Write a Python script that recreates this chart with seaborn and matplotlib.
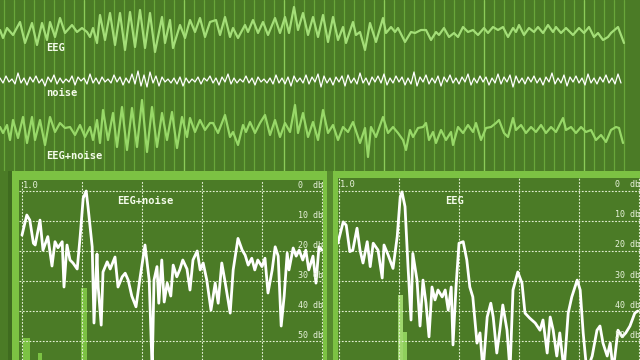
import numpy as np
import pandas as pd
import matplotlib
matplotlib.use("Agg")
import matplotlib.pyplot as plt
import seaborn as sns
from matplotlib.patches import Rectangle

# ---------------- data ----------------
# top traces: time (sample index) and amplitude
eeg_t = [0, 3, 7, 13, 20, 25, 32, 37, 42, 47, 50, 55, 60, 65, 72, 77, 82, 87, 90, 93,
         97, 100, 105, 110, 115, 120, 125, 130, 135, 140, 145, 150, 155, 162, 165, 170, 173, 180, 185, 190,
         195, 200, 205, 210,
         216, 220, 225, 230, 233, 238, 245, 248, 253, 258, 263, 268, 275, 280, 285, 289, 294, 298, 303, 308,
         313, 318, 323, 328, 333, 338, 343, 346, 353, 356, 360, 365, 370, 376, 383, 386, 391, 395, 398, 405,
         411, 415, 421,
         426, 431, 436, 439, 444, 449, 454, 458, 463, 468, 473, 478, 484, 488, 493, 498, 503, 508, 513, 516,
         519, 524, 529, 534, 538, 543, 548, 553, 556, 561, 566, 573, 579, 584, 589, 594, 598, 603, 608, 611,
         618, 624]
eeg_v = [2, -6, 4, -3, 10, -11, 9, -13, 9, -8, 10, -5, 14, -1, 7, 0, 4, 0, -5, 4,
         -11, 17, -8, 19, -13, 19, -18, 20, -15, 22, -16, 19, -20, 15, -11, 12, -16, 7, -6, 12,
         0, 14, -5, 10,
         12, -3, 15, -5, 4, -6, 7, 0, 12, -1, 10, -3, 14, -1, 15, -1, 25, 2, 19, -3,
         15, -5, 17, -10, 15, -8, 5, -11, 10, -3, 0, -18, 9, -10, 14, -1, 5, 0, 4, -10,
         0, -1, 2,
         2, -8, 0, -3, 4, -5, -1, -5, 5, 0, 2, -3, 4, -1, 5, 2, 5, -5, 4, 0,
         7, -3, 4, 0, 5, -1, 7, 0, 5, -1, 4, -3, 4, -1, 5, -5, -1, -8, -5, -1,
         5, -11]

noise_v = [2, -3, 4, -2, 1, -4, 7, -3, 2, -5, 3, -2, 4, -3, 1, -6, 3, -2, 5, -4,
           2, -3, 1, -2, 4, -5, 3, -1, 2, -4, 6, -3, 2, -4, 3, -2, 1, -3, 5, -2,
           3, -5, 2, -3, 6, -4, 9, -6, 5, -7, 8, -3, 4, -6, 3, -2, 1, -3, 2, -4,
           3, -6, 2, -3, 1, -2, 3, -4, 2, -1, 4, -3, 2, -5, 3, -2, 6, -4, 2, -3,
           1, -2, 4, -3, 2, -5, 3, -2, 1, -3, 2, -4, 5, -3, 2, -4, 3, -6, 4, -2,
           2, -3, 5, -4, 3, -2, 6, -7, 4, -3, 2, -5, 3, -2, 4, -6, 5, -3, 2, -4,
           7, -3, 2, -5, 3, -2, 4, -3, 6, -5, 2, -3, 4, -2, 3, -5, 2, -4, 8, -6,
           3, -2, 5, -4, 2, -3, 4, -6, 3, -2, 5, -3, 2, -4, 3, -2, 6, -5, 2, -3,
           4, -2, 3, -5, 2, -3, 6, -4, 3, -2, 5, -7, 4, -3, 2, -4, 3, -2, 4, -3,
           2, -5, 3, -2, 7, -4, 2, -3, 5, -6, 3, -2, 4, -3, 2, -5, 6, -3, 2, -4,
           3, -2, 5, -3, 2, -4, 6, -3]

mix_t = [0, 3, 7, 10, 13, 18, 23, 27, 32, 35, 40, 45, 50, 55, 60, 65, 70, 75, 80, 85,
         90, 93, 97, 100, 103, 108, 113, 117, 122, 127, 132, 137, 142, 147, 152, 157, 162, 167, 172, 177,
         182, 187, 190, 195, 200, 205, 210,
         213, 218, 225, 230, 233, 238, 243, 246, 250, 255, 260, 265, 270, 275, 280, 285, 290, 295, 298, 303,
         308, 313, 318, 323, 328, 333, 338, 343, 348, 353, 360, 365, 368, 371, 376, 383, 388, 393, 398, 403,
         406, 410, 413, 418, 423,
         426, 429, 433, 436, 441, 446, 451, 453, 458, 463, 468, 473, 476, 481, 486, 491, 496, 499, 504, 508,
         513, 516, 521, 526, 531, 536, 541, 546, 551, 556, 563, 566, 571, 576, 581, 586, 591, 596, 601, 606,
         611, 616, 619, 623]
mix_v = [1, -5, 3, -12, 8, -10, 11, -15, 11, -12, 8, -17, 11, -4, 5, 0, 1, -7, 3, -9,
         1, -12, 8, -15, 18, -12, 15, -19, 21, -22, 20, -19, 28, -24, 21, -19, 15, -12, 16, -20,
         11, -9, 10, -4, 8, -2, 5,
         5, -5, 13, -9, -4, -17, 3, -4, 6, -5, 5, 13, -7, 8, -9, 5, -4, 23, -5, 15,
         -9, 6, -12, 18, -5, 3, -12, 1, -4, 6, -15, 0, -29, 1, -9, 11, -5, 1, -5, -12,
         -22, -2, -9, 0, 1,
         5, -12, -4, -15, -2, -12, -4, -17, 1, -5, 3, -4, 5, -12, 0, 1, 5, 8, -5, -9,
         10, -2, 3, -5, 1, -4, 3, -5, 1, -4, 10, -2, 1, -5, 1, -4, -2, -12, -7, -14,
         -2, 1, 0, -15]

trace_labels = ["EEG", "noise", "EEG+noise"]

# spectra: frequency and attenuation in db
spec_mix_f = [0.0, 0.8, 1.3, 1.9, 2.2, 3.0, 3.5, 4.3, 5.0, 5.5, 6.0, 6.7, 7.0, 7.5, 8.0, 8.5, 9.2, 9.7, 10.2, 10.7,
              11.0, 11.7, 12.0, 12.5, 12.7, 13.2, 13.5, 14.2, 14.7, 15.5, 16.0, 16.7, 17.2, 17.7, 18.3, 19.0, 19.7, 20.5, 21.2, 21.7,
              22.0, 22.5, 22.8, 23.3, 23.7, 24.2, 24.8, 25.2, 25.8, 26.3, 26.8, 27.5, 28.0, 28.5, 29.2, 29.7, 30.2, 30.8, 31.5, 32.2,
              32.7, 33.3, 33.8, 34.7, 35.2, 36.0, 36.7, 37.2, 37.7, 38.3, 38.8, 39.3, 40.0, 40.5, 41.0, 41.7, 42.2, 42.7, 43.2, 43.7,
              44.2, 44.5, 45.2, 45.7, 46.2, 46.8, 47.3, 47.8, 48.5, 49.0, 49.5, 50.0]
spec_mix_db = [14.7, 8, 9.7, 17.4, 18, 9.7, 19.7, 15.2, 25, 16.9, 18.9, 16.9, 32, 18, 23, 24, 26, 15, 2.4, 0,
               5.2, 18.6, 44, 21, 32, 44.7, 27, 23.6, 26, 22, 32, 28.6, 27.4, 29.7, 35, 38.6, 28.6, 18, 29.7, 60,
               29.7, 25.2, 37.4, 23, 37, 30.7, 35, 24.7, 28.6, 26.2, 23, 26, 33, 23, 20, 26.3, 24, 29.7, 39.7, 30.7,
               37.4, 24, 29.7, 40.7, 26.3, 15.8, 19.7, 21.4, 24.7, 22.4, 26.3, 23, 25.2, 22.4, 34, 26.3, 18.6, 21.7, 45, 35,
               20.7, 26.3, 19, 21.7, 19.7, 23, 19.7, 26.3, 21.7, 30.7, 18.6, 19.7]

spec_eeg_f = [-0.2, 0.7, 1.2, 1.8, 2.3, 3.0, 3.5, 4.0, 4.7, 5.2, 5.7, 6.5, 7.2, 7.5, 8.2, 9.0, 9.7, 10.2, 10.5, 11.0,
              11.5, 12.0, 12.3, 13.0, 13.5, 14.0, 14.5, 15.0, 15.5, 16.0, 16.5, 17.2, 17.7, 18.2, 18.7, 19.0, 19.5, 20.0, 20.7, 21.3,
              21.8, 22.3, 23.0, 23.5, 24.0, 24.7, 25.3, 25.7, 26.3, 26.8, 27.3, 28.0, 28.5, 29.0, 29.8, 30.5, 31.0, 31.8, 32.7, 33.5,
              34.0, 34.7, 35.2, 35.7, 36.3, 36.8, 37.5, 38.2, 38.8, 39.7, 40.2, 40.7, 41.3, 42.2, 43.0, 43.5, 44.0, 44.7, 45.2, 45.7,
              46.5, 47.2, 47.8, 48.5, 49.3, 49.8]
spec_eeg_db = [17.4, 10.3, 11.4, 20.2, 19.7, 12.4, 19.7, 24, 16.9, 25.2, 17.4, 19.7, 29, 18, 21.4, 25.8, 15.2, 2, 0.3, 5.2,
               25.2, 43, 20.8, 29.7, 45, 29.7, 37.4, 48.6, 32, 36.3, 33, 35.3, 33, 39.7, 32, 51.3, 32, 17.4, 16.9, 23,
               32, 35.3, 50.7, 47.3, 60, 42, 37.4, 42, 54, 46.4, 38, 46.4, 60, 33, 27, 30.7, 40.7, 42.4, 44, 46.4,
               43, 54, 42, 46.4, 55, 47.3, 60, 40.7, 35.3, 29.7, 33, 47.3, 60, 55, 46.4, 45, 50.7, 55, 50.7, 60,
               46.4, 48.6, 47.3, 45, 40.7, 40]

bars_mix_f = [0.75, 3.0, 10.3]
bars_mix_db = [49, 54, 32.3]
bars_eeg_f = [10.25, 11.0]
bars_eeg_db = [34.7, 47]

db_ticks = [0, 10, 20, 30, 40, 50]
scale_label = "1.0"
spec_titles = ["EEG+noise", "EEG"]

# ---------------- style ----------------
BG = "#4b7b26"
LIGHT = "#7cc243"
DIV = "#568a2d"
DARK = "#3f6b1f"
GRID_T = "#69a63a"
GRID_TB = "#8ccc58"
EEG_C = "#a4de78"
MIX_C = "#98d868"
WHITE = "#f4fbea"

sns.set_theme(style="dark")
plt.rcParams["font.family"] = ["DejaVu Sans Mono", "DejaVu Sans"]

W, H = 640, 360
fig = plt.figure(figsize=(6.4, 3.6), dpi=100, facecolor=BG)


def px_axes(x0, y0, x1, y1):
    return fig.add_axes([x0 / W, 1 - y1 / H, (x1 - x0) / W, (y1 - y0) / H])


# background frame
bg = px_axes(0, 0, W, H)
bg.set_xlim(0, W)
bg.set_ylim(H, 0)
bg.axis("off")
bg.set_facecolor(BG)
for (x, y, w, h, c) in [
    (12, 171, 315, 9, LIGHT), (12, 171, 7, 189, LIGHT), (323, 171, 4, 189, LIGHT),
    (327, 171, 6, 189, DIV), (333, 171, 307, 7, LIGHT), (333, 171, 5, 189, LIGHT),
    (8, 171, 4, 189, DARK)]:
    bg.add_patch(Rectangle((x, y), w, h, color=c, lw=0))

# ---------------- top traces ----------------
top = px_axes(0, 0, W, 171)
top.set_facecolor(BG)
top.set_xlim(0, W)
top.set_ylim(0, 171)
top.set_xticks(np.arange(4, 625, 10))
top.set_yticks([])
top.grid(axis="x", color=GRID_T, lw=0.9)
top.grid(axis="y", visible=False)
for xb in np.arange(84, 600, 100):
    top.axvline(xb, color=GRID_TB, lw=0.9, zorder=0.6)
top.tick_params(length=0, labelbottom=False, labelleft=False)
for s in top.spines.values():
    s.set_visible(False)

offsets = [139, 91, 43]
eeg_df = pd.DataFrame({"t": eeg_t, "v": np.array(eeg_v) + offsets[0]})
noise_df = pd.DataFrame({"t": np.arange(len(noise_v)) * 3, "v": np.array(noise_v) + offsets[1]})
mix_df = pd.DataFrame({"t": mix_t, "v": np.array(mix_v) + offsets[2]})
sns.lineplot(data=eeg_df, x="t", y="v", ax=top, color=EEG_C, lw=1.6, estimator=None, sort=False)
sns.lineplot(data=noise_df, x="t", y="v", ax=top, color="white", lw=0.9, estimator=None, sort=False)
sns.lineplot(data=mix_df, x="t", y="v", ax=top, color=MIX_C, lw=1.6, estimator=None, sort=False)
top.set_xlabel("")
top.set_ylabel("")
for lab, yy in zip(trace_labels, [123, 78, 15]):
    top.text(46, yy, lab, color=WHITE, fontsize=7.5, fontweight="bold",
             family="DejaVu Sans Mono", ha="left", va="center")


# ---------------- spectra ----------------
def spectrum(ax, f, db, bf, bdb, bw, bcol, title, title_f, xlim, ylim):
    ax.set_facecolor(BG)
    ax.set_xlim(*xlim)
    ax.set_ylim(*ylim)
    ax.set_xticks(np.arange(0, 51, 10))
    ax.set_yticks(db_ticks)
    ax.set_axisbelow(True)
    ax.grid(True, color="#e4f0d4", lw=0.8, linestyle=(0, (1.6, 1.4)))
    ax.tick_params(length=0, labelbottom=False, labelleft=False)
    for s in ax.spines.values():
        s.set_visible(False)
    ax.bar(bf, [70 - d for d in bdb], bottom=bdb, width=bw, color=bcol, lw=0, zorder=0.3)
    df = pd.DataFrame({"f": f, "db": db})
    sns.lineplot(data=df, x="f", y="db", ax=ax, color="white", lw=2.0,
                 estimator=None, sort=False, zorder=3)
    ax.set_xlabel("")
    ax.set_ylabel("")
    for d in db_ticks:
        ax.text(46, d - 2, f"{d:<2d} db", color="#e8f2dc", fontsize=6, ha="left",
                va="center", family="DejaVu Sans Mono", zorder=4, clip_on=True)
    ax.text(0.2, -2, scale_label, color="#e8f2dc", fontsize=6.3, ha="left", va="center",
            family="DejaVu Sans Mono", zorder=4)
    ax.text(title_f, 3.4, title, color=WHITE, fontsize=7.5, fontweight="bold",
            family="DejaVu Sans Mono", ha="center", va="center", zorder=4)


axl = px_axes(19, 180, 323, 360)
spectrum(axl, spec_mix_f, spec_mix_db, bars_mix_f, bars_mix_db, [1.1, 0.6, 1.0],
         [LIGHT, LIGHT, LIGHT], spec_titles[0], 20.5, (-0.5, 50.17), (56.33, -3.67))
axr = px_axes(338, 178, 640, 360)
spectrum(axr, spec_eeg_f, spec_eeg_db, bars_eeg_f, bars_eeg_db, [0.85, 0.7],
         ["#9ed66c", "#8fd05c"], spec_titles[1], 19.2, (-0.17, 50.17), (56.33, -4.33))

fig.savefig("out.png", dpi=100, facecolor=BG)
